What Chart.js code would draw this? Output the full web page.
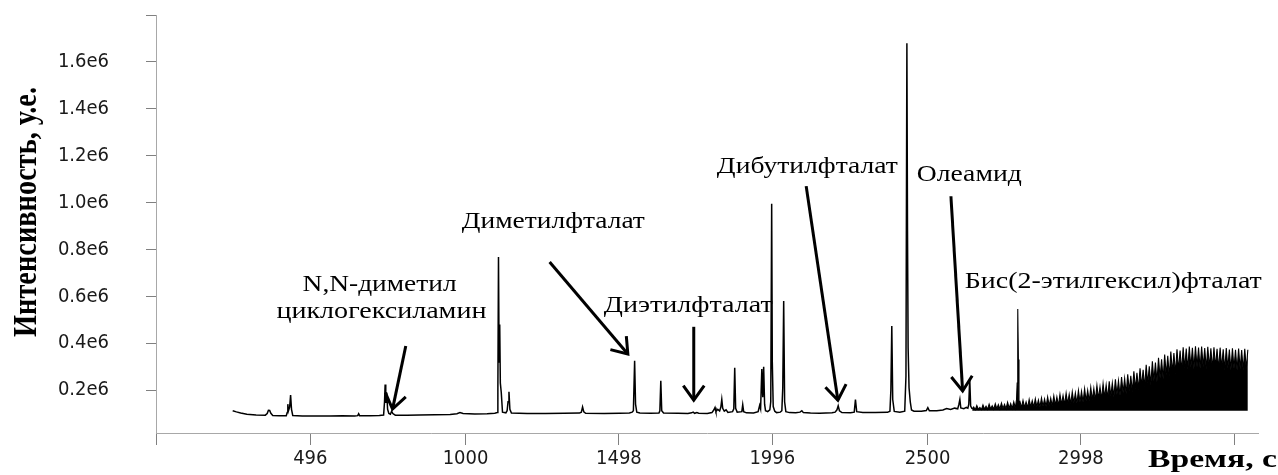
<!DOCTYPE html>
<html>
<head>
<meta charset="utf-8">
<script src="https://cdn.jsdelivr.net/npm/chart.js@4.4.1/dist/chart.umd.min.js"></script>
<style>
  html, body { margin: 0; padding: 0; background: #fff; }
  canvas { display: block; }
</style>
</head>
<body>
<canvas id="chart" width="1278" height="475"></canvas>
<script>
// Total ion chromatogram: retention time (s) vs. intensity (a.u.)
const traceTime = [
  244, 256, 270, 290, 320, 350, 356, 360, 364, 368, 374, 395, 418, 421, 423, 425, 429, 432, 435, 439,
  470, 510, 560, 600, 640, 650, 653, 656, 690, 720, 734, 737, 739, 741, 744, 747, 751, 756, 760, 764,
  772, 810, 850, 900, 950, 972, 982, 992, 1030, 1070, 1095, 1103, 1105, 1107, 1109, 1111, 1113, 1116, 1120,
  1131, 1135, 1138, 1141, 1144, 1149, 1200, 1260, 1320, 1370, 1376, 1380, 1384, 1390, 1450, 1500, 1532,
  1541, 1545, 1549, 1552, 1556, 1566, 1600, 1628, 1631, 1634, 1637, 1643, 1690, 1722, 1734, 1739, 1744,
  1751, 1757, 1785, 1800, 1806, 1810, 1813, 1819, 1825, 1829, 1832, 1835, 1840, 1846, 1852, 1867, 1871,
  1874, 1877, 1882, 1897, 1900, 1903, 1912, 1935, 1950, 1955, 1958, 1962, 1965, 1968, 1971, 1974, 1981,
  1988, 1991, 1994, 1996, 1999, 2004, 2010, 2022, 2027, 2030, 2033, 2036, 2040, 2052, 2072, 2086, 2092,
  2097, 2120, 2150, 2190, 2200, 2206, 2210, 2214, 2222, 2250, 2262, 2266, 2270, 2290, 2330, 2370, 2378,
  2381, 2384, 2387, 2392, 2410, 2426, 2430, 2433, 2435, 2437, 2440, 2444, 2448, 2456, 2480, 2496, 2501,
  2506, 2530, 2550, 2562, 2575, 2588, 2598, 2602, 2605, 2608, 2618, 2626, 2631, 2634, 2637, 2640, 2645
];
const traceSignal = [
  112e3, 107e3, 102e3, 97e3, 94e3, 93e3, 100e3, 114e3, 113e3, 101e3, 92e3, 91e3, 91e3, 104e3, 140e3, 112e3, 128e3, 179e3, 118e3, 92e3,
  90e3, 89e3, 90e3, 91e3, 90e3, 91e3, 99e3, 91e3, 91e3, 92e3, 94e3, 150e3, 224e3, 145e3, 190e3, 118e3, 100e3, 97e3, 110e3, 100e3,
  93e3, 93e3, 94e3, 95e3, 96e3, 99e3, 104e3, 100e3, 98e3, 99e3, 101e3, 104e3, 200e3, 768e3, 320e3, 480e3, 230e3, 190e3, 106e3,
  103e3, 112e3, 150e3, 193e3, 118e3, 102e3, 100e3, 100e3, 101e3, 102e3, 106e3, 128e3, 107e3, 101e3, 100e3, 101e3, 102e3,
  106e3, 112e3, 325e3, 140e3, 106e3, 102e3, 101e3, 102e3, 112e3, 240e3, 112e3, 102e3, 101e3, 100e3, 103e3, 106e3, 101e3,
  104e3, 101e3, 100e3, 104e3, 115e3, 126e3, 108e3, 118e3, 111e3, 128e3, 160e3, 122e3, 110e3, 116e3, 105e3, 108e3, 120e3,
  295e3, 122e3, 106e3, 108e3, 138e3, 108e3, 103e3, 102e3, 108e3, 135e3, 120e3, 290e3, 170e3, 300e3, 140e3, 112e3, 108e3,
  116e3, 150e3, 995e3, 320e3, 130e3, 110e3, 104e3, 106e3, 112e3, 210e3, 580e3, 150e3, 108e3, 104e3, 103e3, 106e3, 112e3,
  104e3, 102e3, 101e3, 103e3, 106e3, 116e3, 133e3, 112e3, 104e3, 103e3, 106e3, 160e3, 108e3, 104e3, 104e3, 105e3, 110e3,
  200e3, 473e3, 160e3, 109e3, 106e3, 110e3, 260e3, 1680e3, 880e3, 380e3, 210e3, 150e3, 115e3, 110e3, 110e3, 113e3, 125e3,
  112e3, 112e3, 115e3, 121e3, 117e3, 123e3, 120e3, 140e3, 160e3, 124e3, 121e3, 126e3, 123e3, 140e3, 250e3, 132e3, 120e3
];

// High-temperature end of the run: dense column-bleed oscillation
const bleedTime = [
  2645, 2650, 2655, 2660, 2665, 2670, 2675, 2680, 2685, 2690, 2695, 2700, 2705, 2710, 2715, 2720, 2725, 2730, 2735, 2740,
  2745, 2750, 2755, 2760, 2765, 2770, 2775, 2780, 2785, 2789, 2791, 2793, 2795, 2797, 2800, 2805, 2810, 2815, 2820, 2825,
  2830, 2835, 2840, 2845, 2850, 2855, 2860, 2865, 2870, 2875, 2880, 2885, 2890, 2895, 2900, 2905, 2910, 2915, 2920, 2925,
  2930, 2935, 2940, 2945, 2950, 2955, 2960, 2965, 2970, 2975, 2980, 2985, 2990, 2995, 3000, 3005, 3010, 3015, 3020, 3025,
  3030, 3035, 3040, 3045, 3050, 3055, 3060, 3065, 3070, 3075, 3080, 3085, 3090, 3095, 3100, 3105, 3110, 3115, 3120, 3125,
  3130, 3135, 3140, 3145, 3150, 3155, 3160, 3165, 3170, 3175, 3180, 3185, 3190, 3195, 3200, 3205, 3210, 3215, 3220, 3225,
  3230, 3235, 3240, 3245, 3250, 3255, 3260, 3265, 3270, 3275, 3280, 3285, 3290, 3295, 3300, 3305, 3310, 3315, 3320, 3325,
  3330, 3335, 3340, 3345, 3350, 3355, 3360, 3365, 3370, 3375, 3380, 3385, 3390, 3395, 3400, 3405, 3410, 3415, 3420, 3425,
  3430, 3435, 3440, 3445, 3450, 3455, 3460, 3465, 3470, 3475, 3480, 3485, 3490, 3495, 3500, 3505, 3510, 3515, 3520, 3525,
  3530, 3535, 3540
];
const bleedSignal = [
  120e3, 128e3, 116e3, 134e3, 118e3, 126e3, 117e3, 137e3, 119e3, 131e3, 118e3, 140e3, 120e3, 133e3, 119e3, 142e3, 121e3, 138e3, 120e3, 145e3,
  122e3, 139e3, 121e3, 148e3, 123e3, 143e3, 122e3, 150e3, 124e3, 160e3, 230e3, 546e3, 330e3, 150e3, 152e3, 125e3, 156e3, 126e3, 150e3, 125e3,
  160e3, 128e3, 155e3, 127e3, 163e3, 129e3, 158e3, 128e3, 167e3, 131e3, 162e3, 130e3, 171e3, 133e3, 166e3, 132e3, 176e3, 135e3, 171e3, 134e3,
  182e3, 138e3, 177e3, 137e3, 187e3, 141e3, 182e3, 140e3, 193e3, 145e3, 188e3, 144e3, 199e3, 149e3, 195e3, 148e3, 206e3, 154e3, 200e3, 152e3,
  212e3, 158e3, 207e3, 156e3, 220e3, 163e3, 214e3, 160e3, 228e3, 168e3, 222e3, 165e3, 237e3, 174e3, 231e3, 171e3, 246e3, 181e3, 240e3, 177e3,
  256e3, 189e3, 250e3, 184e3, 267e3, 197e3, 261e3, 193e3, 280e3, 206e3, 274e3, 202e3, 293e3, 216e3, 287e3, 212e3, 308e3, 228e3, 301e3, 223e3,
  323e3, 240e3, 317e3, 236e3, 338e3, 252e3, 331e3, 247e3, 352e3, 264e3, 346e3, 259e3, 364e3, 275e3, 358e3, 270e3, 374e3, 284e3, 369e3, 280e3,
  383e3, 292e3, 377e3, 288e3, 386e3, 296e3, 380e3, 291e3, 387e3, 298e3, 381e3, 292e3, 386e3, 298e3, 379e3, 291e3, 385e3, 297e3, 378e3, 290e3,
  383e3, 296e3, 376e3, 289e3, 381e3, 294e3, 374e3, 287e3, 379e3, 293e3, 373e3, 286e3, 378e3, 292e3, 372e3, 285e3, 377e3, 291e3, 371e3, 284e3,
  376e3, 290e3, 372e3
];
const bleedFloor = 112e3;

// Axis ticks
const timeTicks = [-5, 496, 1000, 1498, 1996, 2500, 2998, 3496];
const timeTickLabels = ['', '496', '1000', '1498', '1996', '2500', '2998', ''];
const intensityTicks = [2e5, 4e5, 6e5, 8e5, 10e5, 12e5, 14e5, 16e5, 18e5];
const intensityTickLabels = ['0.2e6', '0.4e6', '0.6e6', '0.8e6', '1.0e6', '1.2e6', '1.4e6', '1.6e6', ''];

// Compound names and the arrows pointing at their peaks (data coordinates)
const compoundLabels = [
  { text: 'N,N-диметил', t: 471, v: 622e3, width: 154 },
  { text: 'циклогексиламин', t: 386, v: 507e3, width: 210 },
  { text: 'Диметилфталат', t: 988, v: 891e3, width: 183 },
  { text: 'Диэтилфталат', t: 1449, v: 533e3, width: 169 },
  { text: 'Дибутилфталат', t: 1816, v: 1125e3, width: 181 },
  { text: 'Олеамид', t: 2465, v: 1091e3, width: 105 },
  { text: 'Бис(2-этилгексил)фталат', t: 2621, v: 635e3, width: 297 }
];
const compoundArrows = [
  { from: [806, 388e3], to: [763, 119e3] },
  { from: [1273, 746e3], to: [1527, 354e3] },
  { from: [1741, 470e3], to: [1741, 157e3] },
  { from: [2106, 1070e3], to: [2209, 157e3] },
  { from: [2576, 1027e3], to: [2614, 196e3] }
];

const SERIF = "'Liberation Serif', 'Times New Roman', serif";
const SANS = "'DejaVu Sans Condensed', 'Liberation Sans', sans-serif";

function fitText(ctx, text, x, y, width, font, vScale) {
  ctx.save();
  ctx.font = font;
  const w = ctx.measureText(text).width;
  ctx.translate(x, y);
  ctx.scale(width / w, vScale || 1);
  ctx.textAlign = 'left';
  ctx.textBaseline = 'alphabetic';
  ctx.fillText(text, 0, 0);
  ctx.restore();
}

const annotationPlugin = {
  id: 'peakAnnotations',
  afterDraw(chart) {
    const { ctx, scales: { x, y } } = chart;
    ctx.save();
    ctx.fillStyle = '#000';
    ctx.strokeStyle = '#000';

    compoundLabels.forEach(l => {
      fitText(ctx, l.text, x.getPixelForValue(l.t), y.getPixelForValue(l.v), l.width, '23px ' + SERIF);
    });

    ctx.lineWidth = 3;
    ctx.lineCap = 'butt';
    ctx.lineJoin = 'miter';
    compoundArrows.forEach(a => {
      const x1 = x.getPixelForValue(a.from[0]), y1 = y.getPixelForValue(a.from[1]);
      const x2 = x.getPixelForValue(a.to[0]), y2 = y.getPixelForValue(a.to[1]);
      const ang = Math.atan2(y2 - y1, x2 - x1);
      const head = 18, spread = 0.62;
      ctx.beginPath();
      ctx.moveTo(x1, y1);
      ctx.lineTo(x2, y2);
      ctx.stroke();
      ctx.beginPath();
      ctx.moveTo(x2 - head * Math.cos(ang - spread), y2 - head * Math.sin(ang - spread));
      ctx.lineTo(x2, y2);
      ctx.lineTo(x2 - head * Math.cos(ang + spread), y2 - head * Math.sin(ang + spread));
      ctx.stroke();
    });

    // Axis titles
    ctx.save();
    ctx.font = 'bold 30px ' + SERIF;
    const yTitle = 'Интенсивность, у.е.';
    const yw = ctx.measureText(yTitle).width;
    ctx.translate(36, 212);
    ctx.rotate(-Math.PI / 2);
    ctx.scale(250 / yw, 1.12);
    ctx.textAlign = 'center';
    ctx.textBaseline = 'alphabetic';
    ctx.fillText(yTitle, 0, 0);
    ctx.restore();

    fitText(ctx, 'Время, с', 1148, 467, 129, 'bold 26px ' + SERIF);
    ctx.restore();
  }
};

new Chart(document.getElementById('chart'), {
  type: 'line',
  data: {
    datasets: [
      {
        data: traceTime.map((t, i) => ({ x: t, y: traceSignal[i] })),
        borderColor: '#000',
        borderWidth: 1.5,
        pointRadius: 0,
        tension: 0,
        fill: false
      },
      {
        data: bleedTime.map((t, i) => ({ x: t, y: bleedSignal[i] })),
        borderColor: '#000',
        backgroundColor: '#000',
        borderWidth: 1.1,
        pointRadius: 0,
        tension: 0,
        fill: { value: bleedFloor }
      }
    ]
  },
  options: {
    responsive: false,
    animation: false,
    devicePixelRatio: 1,
    layout: { padding: { top: 15, right: 20, bottom: 0, left: 0 } },
    plugins: { legend: { display: false }, tooltip: { enabled: false } },
    scales: {
      x: {
        type: 'linear',
        min: -5,
        max: 3573,
        afterBuildTicks: s => { s.ticks = timeTicks.map(v => ({ value: v })); },
        afterFit: s => { s.height = 42; s.paddingLeft = 0; s.paddingRight = 0; },
        ticks: {
          autoSkip: false,
          maxRotation: 0,
          minRotation: 0,
          padding: 2,
          color: '#1a1a1a',
          font: { family: SANS, size: 20 },
          callback: (v, i) => timeTickLabels[i]
        },
        grid: { drawOnChartArea: false, drawTicks: true, tickLength: 12, color: '#808080' },
        border: { display: true, color: '#a8a8a8', width: 1 }
      },
      y: {
        type: 'linear',
        min: 17e3,
        max: 18e5,
        afterBuildTicks: s => { s.ticks = intensityTicks.map(v => ({ value: v })); },
        afterFit: s => { s.width = 156; s.paddingTop = 0; s.paddingBottom = 0; },
        ticks: {
          padding: 37,
          color: '#1a1a1a',
          font: { family: SANS, size: 20 },
          callback: (v, i) => intensityTickLabels[i]
        },
        grid: { drawOnChartArea: false, drawTicks: true, tickLength: 10, color: '#808080' },
        border: { display: true, color: '#a8a8a8', width: 1 }
      }
    }
  },
  plugins: [annotationPlugin]
});
</script>
</body>
</html>
